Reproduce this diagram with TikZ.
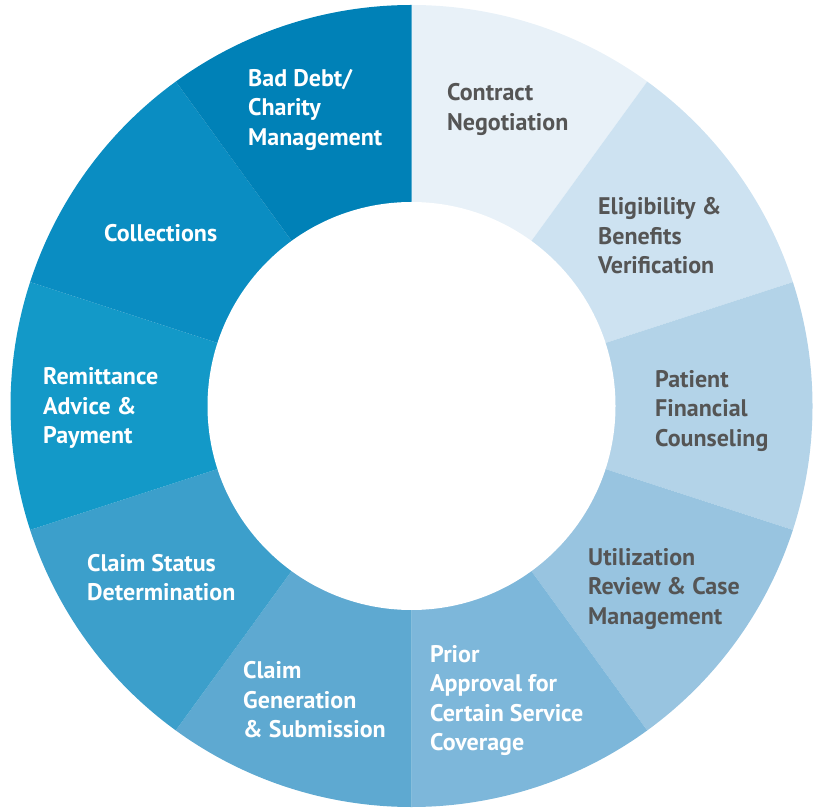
\documentclass[tikz,border=0pt]{standalone}
\usepackage{fontspec}
\setmainfont{PT Sans}
\definecolor{s1}{HTML}{E8F1F8}
\definecolor{s2}{HTML}{CDE2F1}
\definecolor{s3}{HTML}{B3D3E8}
\definecolor{s4}{HTML}{98C4E0}
\definecolor{s5}{HTML}{7DB7DA}
\definecolor{s6}{HTML}{5EA9D1}
\definecolor{s7}{HTML}{3C9FCB}
\definecolor{s8}{HTML}{1399C8}
\definecolor{s9}{HTML}{0A8DC2}
\definecolor{s10}{HTML}{0081B7}
\definecolor{darktext}{HTML}{555555}
\begin{document}
\begin{tikzpicture}[x=1pt,y=1pt,
  lbl/.style={anchor=west,align=left,inner sep=0pt,font=\fontsize{24}{29.5}\selectfont\bfseries},
  darklbl/.style={lbl,text=darktext},
  lightlbl/.style={lbl,text=white}]
\useasboundingbox (0,0) rectangle (813,809);
\coordinate (c) at (411.5,403);
\def\R{401}
\def\r{204}
\foreach \i/\col in {0/s1,1/s2,2/s3,3/s4,4/s5,5/s6,6/s7,7/s8,8/s9,9/s10}{
  \pgfmathsetmacro\a{90-36*\i}
  \pgfmathsetmacro\b{90-36*(\i+1)}
  \fill[\col] (c) -- ++(\a:\R) arc[start angle=\a, end angle=\b, radius=\R] -- cycle;
}
\fill[white] (c) circle (\r);
\node[darklbl] (contract) at (447,699.5) {Contract\\Negotiation};
\node[darklbl] (elig) at (598,573) {Eligibility \&\\Benefits\\Verification};
\node[darklbl] (patient) at (655,398) {Patient\\Financial\\Counseling};
\node[darklbl] (util) at (588,220) {Utilization\\Review \& Case\\Management};
\node[lightlbl] (prior) at (430,108.5) {Prior\\Approval for\\Certain Service\\Coverage};
\node[lightlbl] (claimgen) at (243,109) {Claim\\Generation\\\& Submission};
\node[lightlbl] (claimstat) at (87,231.5) {Claim Status\\Determination};
\node[lightlbl] (remit) at (43,401) {Remittance\\Advice \&\\Payment};
\node[lightlbl] (coll) at (104,576) {Collections};
\node[lightlbl] (baddebt) at (248,699) {Bad Debt/\\Charity\\Management};
\end{tikzpicture}
\end{document}
